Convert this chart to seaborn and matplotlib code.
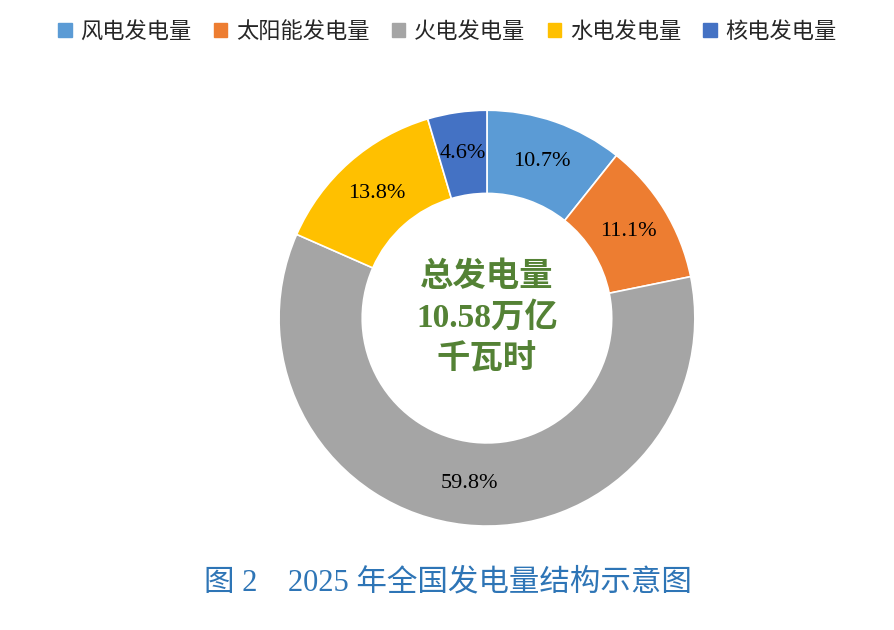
import matplotlib
matplotlib.use("Agg")
import matplotlib.pyplot as plt
import seaborn as sns
from matplotlib.patches import Patch

sns.set_theme(style="white")
plt.rcParams['font.family'] = ['Noto Sans CJK SC', 'DejaVu Sans']

categories = ["风电发电量", "太阳能发电量", "火电发电量", "水电发电量", "核电发电量"]
values = [10.7, 11.1, 59.8, 13.8, 4.6]
colors = ["#5B9BD5", "#ED7D31", "#A5A5A5", "#FFC000", "#4472C4"]

fig = plt.figure(figsize=(8.95, 6.3), dpi=100)
ax = fig.add_axes([0.544 - 0.2324, 0.495 - 0.330, 0.465, 0.660])
wedges, texts, autotexts = ax.pie(
    values, colors=colors, startangle=90, counterclock=False,
    autopct=lambda p: f"{p:.1f}%", pctdistance=0.8,
    wedgeprops=dict(width=0.4, edgecolor="white", linewidth=1.2),
    textprops=dict(fontsize=16, family=['Liberation Serif'], color="black"))
ax.set_aspect("equal")
ax.set_xlim(-1, 1)
ax.set_ylim(-1, 1)

ax.text(0, 0, "总发电量\n10.58万亿\n千瓦时", ha="center", va="center",
        fontsize=24, fontweight="bold", color="#548235", linespacing=1.4,
        family=['Liberation Serif', 'Noto Sans CJK SC'])

handles = [Patch(facecolor=c, edgecolor=c) for c in colors]
fig.legend(handles, categories, loc="upper center", bbox_to_anchor=(0.5, 1.0),
           ncol=5, frameon=False, fontsize=16, handlelength=0.6, handleheight=0.6,
           columnspacing=1.0, handletextpad=0.4)

fig.text(0.5, 0.075, "图 2　2025 年全国发电量结构示意图", ha="center", va="center",
         fontsize=22, color="#2E75B6", family=['Liberation Serif', 'Noto Sans CJK SC'])

fig.savefig("out.png", dpi=100)
